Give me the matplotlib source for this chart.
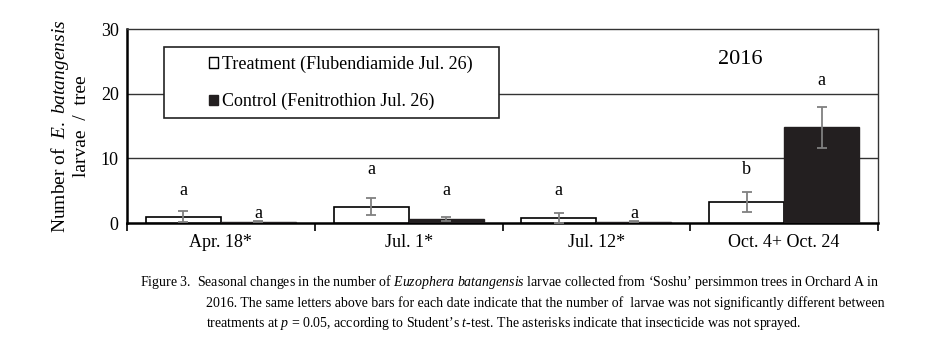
import numpy as np
import matplotlib
matplotlib.use("Agg")
import matplotlib.pyplot as plt
from matplotlib.patches import Patch, Rectangle

plt.rcParams['font.family'] = ['Liberation Serif', 'DejaVu Serif']
plt.rcParams['mathtext.fontset'] = 'custom'
plt.rcParams['mathtext.rm'] = 'Liberation Serif'
plt.rcParams['mathtext.it'] = 'Liberation Serif:italic'

# data
fechas = ['Apr. 18*', 'Jul. 1*', 'Jul. 12*', 'Oct. 4+ Oct. 24']
tratamiento = [1.0, 2.5, 0.8, 3.25]
trat_err = [0.8, 1.3, 0.8, 1.5]
control = [0.2, 0.6, 0.2, 14.8]
ctrl_err = [0.1, 0.3, 0.1, 3.2]
letras_trat = ['a', 'a', 'a', 'b']
letras_ctrl = ['a', 'a', 'a', 'a']
altura_trat = [5.1, 8.3, 5.1, 8.2]
altura_ctrl = [1.5, 5.1, 1.5, 22.0]

W, H = 932, 354
fig = plt.figure(figsize=(W/100, H/100), dpi=100)
ax = fig.add_axes([127/W, 1-223/H, (878-127)/W, (223-29)/H])

x = np.arange(len(fechas))
w = 0.4
ax.bar(x - w/2, tratamiento, w, color='white', edgecolor='black', linewidth=1.2, zorder=3)
ax.bar(x + w/2, control, w, color='#231f20', edgecolor='#231f20', linewidth=1.0, zorder=3)
ax.errorbar(x - w/2, tratamiento, yerr=trat_err, fmt='none', ecolor='#808080',
            elinewidth=1.3, capsize=3.5, capthick=1.3, zorder=4)
ax.errorbar(x + w/2, control, yerr=ctrl_err, fmt='none', ecolor='#808080',
            elinewidth=1.3, capsize=3.5, capthick=1.3, zorder=4)

for i in range(len(fechas)):
    ax.text(x[i] - w/2, altura_trat[i], letras_trat[i], ha='center', va='center', fontsize=13)
    ax.text(x[i] + w/2, altura_ctrl[i], letras_ctrl[i], ha='center', va='center', fontsize=13)

ax.set_xlim(-0.5, len(fechas) - 0.5)
ax.set_ylim(0, 30)
ax.set_yticks([0, 10, 20, 30])
ax.set_yticklabels(['0', '10', '20', '30'], fontsize=13)
ax.tick_params(axis='y', length=0, pad=6)
ax.set_xticks(x)
ax.set_xticklabels(fechas, fontsize=13)
ax.set_xticks(np.arange(len(fechas) + 1) - 0.5, minor=True)
ax.tick_params(axis='x', which='major', length=0, pad=8)
ax.tick_params(axis='x', which='minor', length=6, width=1.2, direction='out')

for yv in [10, 20]:
    ax.axhline(yv, color='#333333', linewidth=1.0, zorder=1)
ax.spines['left'].set_linewidth(1.8)
ax.spines['bottom'].set_linewidth(1.8)
ax.spines['top'].set_linewidth(1.0)
ax.spines['right'].set_linewidth(1.0)
ax.spines['top'].set_color('#333333')
ax.spines['right'].set_color('#333333')

ax.set_ylabel('Number of  $E.\\ batangensis$\nlarvae  /  tree', fontsize=14, linespacing=1.1, labelpad=8)

# caja de la leyenda
caja = Rectangle((164/W, 1-118/H), (499-164)/W, (118-47)/H, transform=fig.transFigure,
                 facecolor='white', edgecolor='#222222', linewidth=1.2, zorder=5, clip_on=False)
ax.add_patch(caja)
handles = [Patch(facecolor='white', edgecolor='black', label='Treatment (Flubendiamide Jul. 26)'),
           Patch(facecolor='#231f20', edgecolor='#231f20', label='Control (Fenitrothion Jul. 26)')]
leg = ax.legend(handles=handles, loc='center left', bbox_to_anchor=(209/W, 1-83/H),
                bbox_transform=fig.transFigure, fontsize=13, frameon=False,
                handlelength=0.5, handleheight=0.5, handletextpad=0.2, labelspacing=1.1,
                borderpad=0, borderaxespad=0)
leg.set_zorder(6)

fig.text(740/W, 1-60/H, '2016', fontsize=16, ha='center', va='center')

fs = 10
fig.text(140/W, 1-282/H,
         'Figure 3.  Seasonal changes in the number of $Euzophera\\ batangensis$ larvae collected from \u2018Soshu\u2019 persimmon trees in Orchard A in',
         fontsize=fs, va='center')
fig.text(206/W, 1-303/H,
         '2016. The same letters above bars for each date indicate that the number of  larvae was not significantly different between',
         fontsize=fs, va='center')
fig.text(206/W, 1-324/H,
         'treatments at $p$ = 0.05, according to Student\u2019s $t$-test. The asterisks indicate that insecticide was not sprayed.',
         fontsize=fs, va='center')

fig.savefig('out.png', dpi=100)
